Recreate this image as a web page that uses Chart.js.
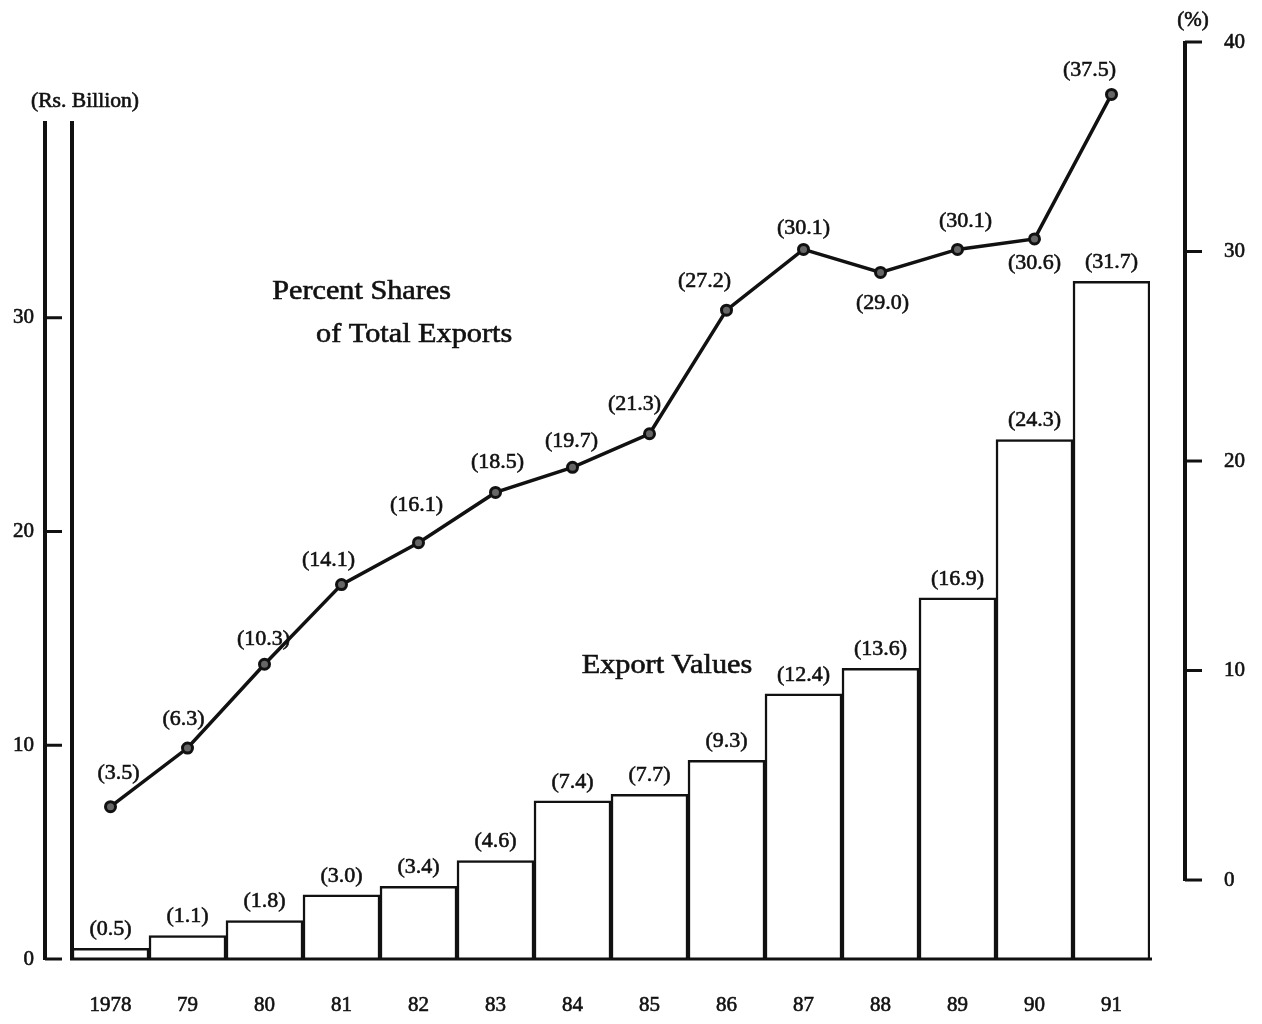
<!DOCTYPE html>
<html>
<head>
<meta charset="utf-8">
<script src="https://cdn.jsdelivr.net/npm/chart.js@4.4.1/dist/chart.umd.min.js"></script>
<style>
  html, body { margin: 0; padding: 0; background: #fff; }
  #wrap { width: 1262px; height: 1024px; }
</style>
</head>
<body>
<div id="wrap"><canvas id="chart"></canvas></div>
<script>
// ============================
// DATI
// ============================
const years = ['1978', '79', '80', '81', '82', '83', '84', '85', '86', '87', '88', '89', '90', '91'];
const exportValues = [0.5, 1.1, 1.8, 3.0, 3.4, 4.6, 7.4, 7.7, 9.3, 12.4, 13.6, 16.9, 24.3, 31.7];   // Rs. Billion
const percentShares = [3.5, 6.3, 10.3, 14.1, 16.1, 18.5, 19.7, 21.3, 27.2, 30.1, 29.0, 30.1, 30.6, 37.5]; // %
const leftTicks = [0, 10, 20, 30];
const rightTicks = [0, 10, 20, 30, 40];

// posizione etichette della linea (dx, dy dal punto)
const lineLabelOffsets = [
  [8, -33], [-4, -29], [-1, -25], [-13, -24], [-2, -37], [2, -30], [-1, -26],
  [-15, -30], [-22, -29], [0, -21], [2, 31], [8, -28], [0, 24], [-22, -24]
];

const SERIF = "'Liberation Serif', 'Times New Roman', serif";
const INK = '#111';

Chart.defaults.font.family = SERIF;
Chart.defaults.color = INK;

function text(ctx, str, x, y, size, opts = {}) {
  ctx.save();
  ctx.translate(x, y);
  ctx.scale(opts.sx || 1, 1);
  ctx.font = `${size}px ${SERIF}`;
  ctx.fillStyle = INK;
  ctx.strokeStyle = INK;
  ctx.lineWidth = 0.6;
  ctx.textAlign = opts.align || 'center';
  ctx.textBaseline = opts.baseline || 'middle';
  ctx.fillText(str, 0, 0);
  ctx.strokeText(str, 0, 0);
  ctx.restore();
}

function line(ctx, x1, y1, x2, y2, w) {
  ctx.beginPath();
  ctx.moveTo(x1, y1);
  ctx.lineTo(x2, y2);
  ctx.lineWidth = w;
  ctx.strokeStyle = INK;
  ctx.stroke();
}

// niente padding extra dalle etichette degli assi verticali
function fixAxis(width) {
  return s => {
    s.width = width;
    s.paddingTop = 0;
    s.paddingBottom = 0;
  };
}

// assi, etichette e scritte
const decorations = {
  id: 'decorations',
  afterDatasetsDraw(chart) {
    const { ctx, chartArea, scales: { x, y, y2 } } = chart;
    const inner = chartArea.left;
    const outer = chartArea.left - 27;
    const axisTop = y.getPixelForValue(39.2);
    const base = y.getPixelForValue(0);

    // asse sinistro doppio
    line(ctx, outer, axisTop, outer, base + 1, 4);
    line(ctx, inner, axisTop, inner, base + 1, 4);
    leftTicks.forEach(v => {
      const py = y.getPixelForValue(v);
      line(ctx, outer, py, outer + 17, py, 3);
    });
    // linea di base
    line(ctx, inner - 2, base, chartArea.right + 2, base, 3);

    // asse destro
    const rx = chartArea.right + 35;
    line(ctx, rx, y2.getPixelForValue(40) - 1, rx, y2.getPixelForValue(0) + 1, 4);
    rightTicks.forEach(v => {
      const py = y2.getPixelForValue(v);
      line(ctx, rx, py, rx + 17, py, 3);
    });

    // titoli assi
    text(ctx, '(Rs. Billion)', outer + 40, axisTop - 19, 20, { sx: 1.08 });
    text(ctx, '(%)', rx + 8, y2.getPixelForValue(40) - 21, 20, { sx: 1.05 });

    // etichette barre
    const barMeta = chart.getDatasetMeta(1);
    barMeta.data.forEach((bar, i) => {
      text(ctx, `(${exportValues[i].toFixed(1)})`, bar.x, bar.y - 19, 22);
    });

    // etichette linea
    const lineMeta = chart.getDatasetMeta(0);
    lineMeta.data.forEach((pt, i) => {
      const [dx, dy] = lineLabelOffsets[i];
      text(ctx, `(${percentShares[i].toFixed(1)})`, pt.x + dx, pt.y + dy, 22);
    });

    // scritte
    text(ctx, 'Percent Shares', x.getPixelForValue(2.1), y.getPixelForValue(30.9), 27, { sx: 1.12, align: 'left', baseline: 'alphabetic' });
    text(ctx, 'of Total Exports', x.getPixelForValue(2.67), y.getPixelForValue(28.87), 27, { sx: 1.12, align: 'left', baseline: 'alphabetic' });
    text(ctx, 'Export Values', x.getPixelForValue(6.12), y.getPixelForValue(13.38), 27, { sx: 1.12, align: 'left', baseline: 'alphabetic' });
  }
};

const chart = new Chart(document.getElementById('chart').getContext('2d'), {
  data: {
    labels: years,
    datasets: [
      {
        type: 'line',
        label: 'Percent Shares of Total Exports',
        data: percentShares,
        yAxisID: 'y2',
        order: 0,
        borderColor: INK,
        borderWidth: 3.5,
        tension: 0,
        pointRadius: 5,
        pointBorderWidth: 3,
        pointBorderColor: INK,
        pointBackgroundColor: '#666'
      },
      {
        type: 'bar',
        label: 'Export Values',
        data: exportValues,
        yAxisID: 'y',
        order: 1,
        backgroundColor: '#fff',
        borderColor: INK,
        borderWidth: 2.5,
        borderSkipped: 'bottom',
        barPercentage: 1,
        categoryPercentage: 1
      }
    ]
  },
  options: {
    responsive: true,
    maintainAspectRatio: false,
    animation: false,
    layout: { padding: { top: 42, left: 0, right: 0, bottom: 0 } },
    plugins: { legend: { display: false }, tooltip: { enabled: false } },
    scales: {
      x: {
        offset: true,
        grid: { display: false, drawTicks: false },
        border: { display: false },
        ticks: { font: { size: 21 }, padding: 34, maxRotation: 0, autoSkip: false, textStrokeColor: INK, textStrokeWidth: 0.6 },
        afterFit: s => { s.height = 65; }
      },
      y: {
        position: 'left',
        min: 0,
        max: 42.9,
        grid: { display: false, drawTicks: false },
        border: { display: false },
        ticks: { font: { size: 21 }, padding: 38, textStrokeColor: INK, textStrokeWidth: 0.6 },
        afterBuildTicks: s => { s.ticks = leftTicks.map(v => ({ value: v })); },
        afterFit: fixAxis(72)
      },
      y2: {
        position: 'right',
        min: -3.77,
        max: 40,
        grid: { display: false, drawTicks: false },
        border: { display: false },
        ticks: { font: { size: 21 }, padding: 74, textStrokeColor: INK, textStrokeWidth: 0.6 },
        afterBuildTicks: s => { s.ticks = rightTicks.map(v => ({ value: v })); },
        afterFit: fixAxis(112)
      }
    }
  },
  plugins: [decorations]
});
</script>
</body>
</html>
